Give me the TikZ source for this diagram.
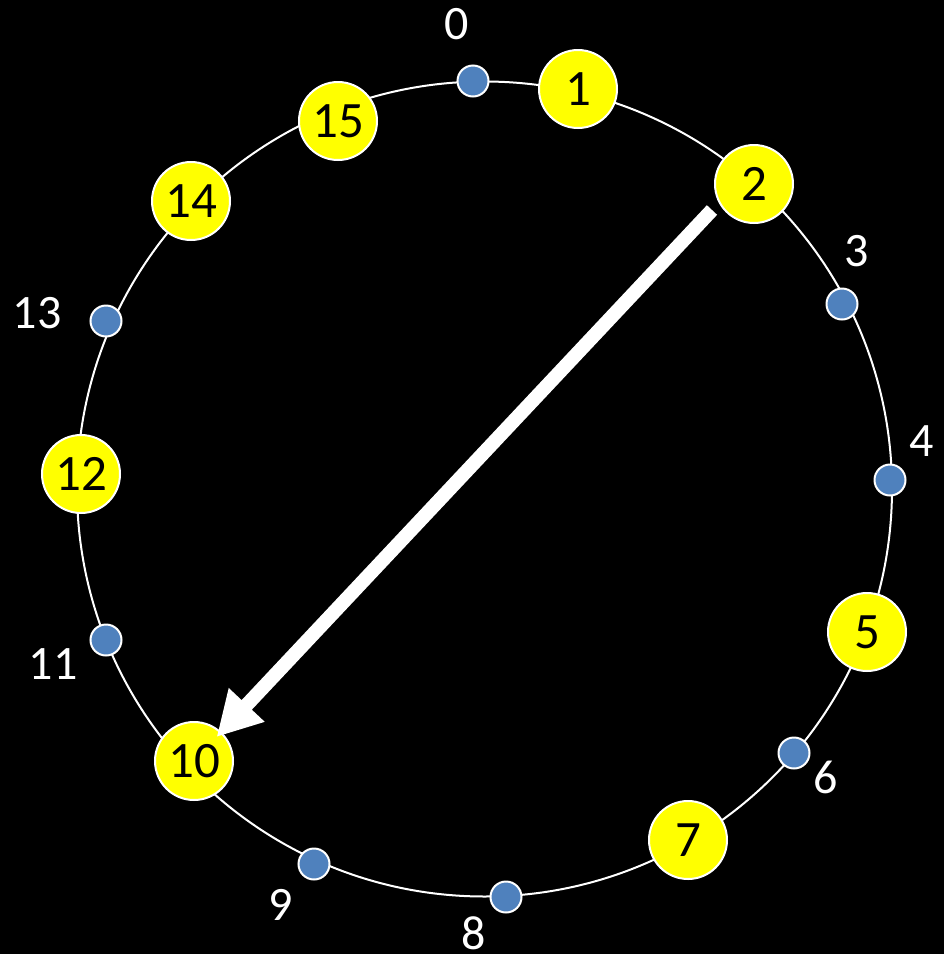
\documentclass[tikz,border=0pt]{standalone}
\usepackage{fontspec}
\setmainfont{Carlito}
\usetikzlibrary{arrows.meta}
\definecolor{dotblue}{HTML}{4F81BD}
\definecolor{nodeyellow}{HTML}{FFFF00}
\tikzset{
  ring/.style={draw=white, line width=2pt},
  bignode/.style={circle, fill=nodeyellow, draw=white, line width=2pt, minimum size=78pt, inner sep=0pt, text=black, font=\fontsize{51}{60}\selectfont},
  smalldot/.style={circle, fill=dotblue, draw=white, line width=2pt, minimum size=31pt, inner sep=0pt},
  lbl/.style={text=white, inner sep=0pt, font=\fontsize{48}{56}\selectfont},
  bigarrow/.style={draw=white, line width=14pt, -{Triangle[length=44pt, width=46pt]}}
}
\begin{document}
\begin{tikzpicture}[x=1pt, y=-1pt]
\fill[black] (0,0) rectangle (944,954);
\useasboundingbox (0,0) rectangle (944,954);
\draw[ring] (484.5,489) circle[radius=407.5];
% small dots
\node[smalldot] (n0) at (473,81) {};
\node[smalldot] (n3) at (842,304) {};
\node[smalldot] (n4) at (890,480) {};
\node[smalldot] (n6) at (794,753) {};
\node[smalldot] (n8) at (506,897) {};
\node[smalldot] (n9) at (314,864) {};
\node[smalldot] (n11) at (106,640) {};
\node[smalldot] (n13) at (106,321) {};
% big nodes
\node[bignode] (n1) at (578,89) {1};
\node[bignode] (n2) at (754,184) {2};
\node[bignode] (n5) at (867,632) {5};
\node[bignode] (n7) at (688,840) {7};
\node[bignode] (n10) at (194,761) {10};
\node[bignode] (n12) at (81,474) {12};
\node[bignode] (n14) at (191,201) {14};
\node[bignode] (n15) at (338,121) {15};
% labels
\node[lbl] (l0) at (457,24) {0};
\node[lbl] (l3) at (857,251) {3};
\node[lbl] (l4) at (922,441) {4};
\node[lbl] (l6) at (826,777) {6};
\node[lbl] (l8) at (474,933) {8};
\node[lbl] (l9) at (281,905) {9};
\node[lbl] (l11) at (53,664) {11};
\node[lbl] (l13) at (37,313) {13};
% arrow
\coordinate (as) at (712,210);
\draw[bigarrow, shorten >=-7pt] (as) -- (n10);
\end{tikzpicture}
\end{document}
